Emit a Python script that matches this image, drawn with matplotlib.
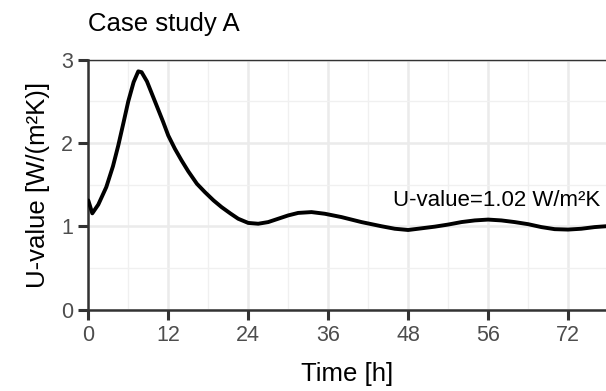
import matplotlib
matplotlib.use("Agg")
import matplotlib.pyplot as plt
from matplotlib.ticker import MultipleLocator

plt.rcParams['font.family'] = ['Liberation Sans', 'DejaVu Sans']

# values
time_h = [0, 0.6, 1.5, 2.7, 3.7, 4.5, 5.3, 6.0, 6.8, 7.5, 8.0, 8.8, 9.6, 10.3,
          11.2, 12.0, 13.0, 14.0, 15.0, 16.3, 17.5, 18.8, 20.0, 21.3, 22.5,
          24.0, 25.5, 27.0, 28.5, 30.0, 31.5, 33.5, 35.5, 38.0, 41.0, 44.0,
          46.0, 48.0, 50.0, 52.0, 54.0, 56.0, 58.0, 60.0, 62.0, 64.0, 66.0,
          68.0, 70.0, 72.0, 74.0, 76.0, 77.7]
u_value = [1.31, 1.155, 1.26, 1.47, 1.72, 1.97, 2.25, 2.50, 2.73, 2.86, 2.85,
           2.74, 2.58, 2.44, 2.26, 2.09, 1.93, 1.79, 1.66, 1.51, 1.41, 1.31,
           1.23, 1.155, 1.09, 1.04, 1.03, 1.05, 1.09, 1.13, 1.16, 1.17, 1.15,
           1.11, 1.05, 1.00, 0.97, 0.955, 0.975, 0.995, 1.02, 1.05, 1.07, 1.08,
           1.07, 1.05, 1.025, 0.99, 0.965, 0.96, 0.97, 0.99, 1.00]

x_ticks = [0, 12, 24, 36, 48, 60, 72]
x_labels = ['0', '12', '24', '36', '48', '56', '72']
y_ticks = [0, 1, 2, 3]
mean_label = 'U-value=1.02 W/m²K'

fig = plt.figure(figsize=(6.06, 3.91), dpi=100)
ax = fig.add_axes([0.1457, 0.2084, 0.8543, 0.6389])

ax.plot(time_h, u_value, color='black', lw=2.8, solid_capstyle='round', zorder=3)
ax.text(76.9, 1.31, mean_label, ha='right', va='center', fontsize=16, color='black')

ax.set_xlim(0, 77.7)
ax.set_ylim(0, 3)
ax.set_xticks(x_ticks)
ax.set_xticklabels(x_labels)
ax.set_yticks(y_ticks)
ax.xaxis.set_minor_locator(MultipleLocator(6))
ax.yaxis.set_minor_locator(MultipleLocator(0.5))

ax.grid(which='major', color='#EBEBEB', lw=1.8)
ax.grid(which='minor', color='#F0F0F0', lw=1.0)
ax.set_axisbelow(True)

for side in ['left', 'bottom', 'top']:
    ax.spines[side].set_color('#333333')
ax.spines['left'].set_linewidth(1.8)
ax.spines['bottom'].set_linewidth(1.8)
ax.spines['top'].set_linewidth(1.0)
ax.spines['right'].set_visible(False)

ax.tick_params(which='major', length=7, width=2.2, color='#333333',
               labelsize=15.5, labelcolor='#4D4D4D', pad=4)
ax.tick_params(which='minor', length=0)

ax.set_xlabel('Time [h]', fontsize=18.5, labelpad=12)
ax.set_ylabel('U-value [W/(m²K)]', fontsize=18.5, labelpad=8)
ax.set_title('Case study A', loc='left', fontsize=18.5, pad=21)

fig.savefig('out.png', dpi=100)
